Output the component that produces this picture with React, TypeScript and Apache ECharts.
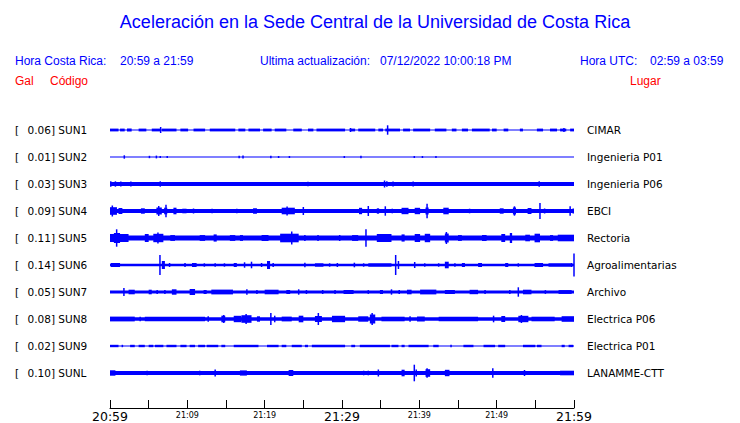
import React, { useEffect, useRef } from "react";
import * as echarts from "echarts";

// ---- Data ----
const TITLE = "Aceleración en la Sede Central de la Universidad de Costa Rica";
const CODES = ["SUN1", "SUN2", "SUN3", "SUN4", "SUN5", "SUN6", "SUN7", "SUN8", "SUN9", "SUNL"];
const PEAK_GAL = ["0.06", "0.01", "0.03", "0.09", "0.11", "0.14", "0.05", "0.08", "0.02", "0.10"];
const PLACES = [
  "CIMAR", "Ingenieria P01", "Ingenieria P06", "EBCI", "Rectoria",
  "Agroalimentarias", "Archivo", "Electrica P06", "Electrica P01", "LANAMME-CTT",
];
// minutes after 20:59, tick every 5 min, label every 10 min
const TIME_LABELS = ["20:59", "21:09", "21:19", "21:29", "21:39", "21:49", "21:59"];
const BIG_LABELS = ["20:59", "21:29", "21:59"];

// background (noise) half-amplitude of each trace
const BASE_HALF = [0.6, 0.5, 2.0, 2.0, 2.6, 1.3, 1.6, 1.8, 0.5, 2.0];

// [startMin, endMin, halfAmplitude] bursts / spikes read from the record
const SUN1 = [
  [0, 1.1, 1.4], [1.3, 1.9, 1.4], [2.2, 2.8, 1.4], [3.7, 4.7, 1.4], [5.4, 6.5, 1.4], [6.55, 6.55, 3],
  [6.7, 8.6, 1.4], [9.1, 10.1, 1.4], [10.8, 12.3, 1.4], [12.9, 16.2, 1.4], [16.6, 17.5, 1.4],
  [17.9, 19.4, 1.4], [19.8, 20.9, 1.4], [21.3, 22.8, 1.4], [23.7, 24.8, 1.4], [25.6, 26.3, 1.4],
  [26.7, 30.4, 1.4], [31.0, 31.7, 1.4], [31.1, 31.1, 2], [32.1, 34.3, 1.4], [34.7, 35.3, 1.4],
  [35.6, 37.5, 1.4], [35.9, 35.9, 4.7], [37.9, 38.8, 1.4], [39.2, 41.4, 1.4], [42.0, 43.5, 1.4],
  [44.2, 44.8, 1.4], [45.5, 46.3, 1.4], [46.8, 49.1, 1.4], [49.4, 50.0, 1.4], [50.9, 51.5, 1.4],
  [53.0, 53.4, 1.4], [55.2, 56.0, 1.4], [56.9, 57.8, 1.4], [58.2, 59.0, 1.4], [58.7, 58.7, 2],
  [59.5, 60, 1.4],
];
const SUN2 = [
  [1.85, 1.85, 1.7], [5.1, 5.1, 1.2], [6.0, 6.0, 1.4], [6.5, 6.5, 1.0], [7.4, 7.4, 1.0],
  [16.7, 16.7, 1.2], [17.2, 17.2, 1.6], [20.8, 20.8, 1.2], [21.8, 21.8, 1.0], [23.2, 23.2, 1.0],
  [30.3, 30.3, 1.0], [32.45, 32.45, 1.2], [39.35, 39.35, 1.0], [40.4, 40.4, 1.0], [42.15, 42.15, 1.0],
];
const SUN3 = [
  [0.1, 0.1, 2.7], [0.7, 0.7, 2.7], [1.4, 1.4, 2.5], [2.7, 2.7, 2.5], [6.5, 6.5, 2.7],
  [25.6, 25.6, 2.3], [35.5, 35.5, 3.5], [35.8, 35.8, 2.8], [36.6, 36.6, 2.5], [39.2, 39.2, 2.5],
  [55.5, 55.5, 2.7],
];
const SUN4 = [
  [0, 0.9, 3.8], [0.3, 0.3, 5.5], [1.1, 1.6, 3], [4.0, 4.5, 2.7], [6.0, 6.7, 3.5], [6.3, 6.3, 5],
  [7.0, 7.4, 3.3], [7.24, 7.24, 6.3], [8.2, 8.6, 3.3], [9.35, 9.9, 2.3], [10.8, 10.8, 2.5],
  [13.2, 13.2, 2.3], [14.7, 14.7, 2], [16.4, 16.4, 2.3], [18.5, 19.0, 2.7], [19.8, 19.8, 2],
  [22.2, 23.9, 3.3], [22.9, 22.9, 4.5], [25.0, 25.0, 4], [25.4, 25.4, 2], [26.6, 26.6, 2],
  [29.5, 29.5, 2], [31.5, 31.5, 2], [32.2, 32.6, 3.2], [33.4, 33.4, 5], [34.5, 34.8, 2.7],
  [35.6, 35.6, 4.7], [36.5, 36.5, 2.3], [37.7, 38.6, 3.2], [39.4, 40.1, 3.2], [40.8, 41.2, 3.5],
  [41.0, 41.0, 7.3], [43.1, 43.8, 3.3], [45.0, 45.0, 2], [46.5, 46.5, 2.3], [48.3, 48.3, 2],
  [49.6, 49.6, 2], [50.4, 50.9, 2.7], [52.1, 52.5, 3.5], [52.3, 52.3, 4.7], [54.0, 54.5, 3],
  [55.6, 55.6, 8], [56.2, 56.2, 2.5], [59.5, 59.5, 4.7], [59.9, 59.9, 2.5],
];
const SUN5 = [
  [0, 2.4, 4], [0.86, 0.86, 8.7], [0.5, 1.3, 5], [4.5, 5.0, 4], [5.6, 6.9, 4.2], [6.2, 6.2, 5.5],
  [7.8, 8.4, 2.9], [11.6, 12.3, 2.9], [13.4, 13.8, 3.6], [15.5, 16.2, 2.9], [16.8, 17.2, 2.9],
  [19.6, 20.5, 3], [22.0, 24.4, 4.3], [23.5, 23.5, 6.5], [25.2, 25.2, 3], [26.9, 26.9, 2.9],
  [29.7, 29.7, 3], [31.3, 32.1, 2.9], [33.1, 33.1, 8.7], [34.5, 36.4, 4], [37.7, 38.1, 3.6],
  [39.4, 40.1, 4], [40.7, 41.4, 4.2], [43.3, 43.8, 4.5], [43.5, 43.5, 6], [45.0, 45.5, 2.9],
  [48.1, 48.7, 3], [50.6, 51.1, 4], [51.7, 52.0, 5], [53.7, 54.3, 3.3], [54.9, 55.6, 4.3],
  [56.9, 57.3, 2.9], [57.9, 60, 3.3],
];
const SUN6 = [
  [0.1, 1.3, 2], [6.46, 6.46, 10], [6.7, 7.1, 4], [7.7, 7.7, 2], [9.7, 9.7, 2], [10.6, 11.2, 2],
  [12.2, 12.2, 1.7], [13.6, 13.6, 1.7], [14.8, 14.8, 1.7], [16.0, 16.4, 2], [17.4, 17.4, 2.7],
  [18.3, 18.3, 3.3], [19.6, 19.6, 2], [20.3, 20.7, 4], [21.1, 21.1, 2], [25.2, 25.2, 2.3],
  [26.5, 27.6, 1.7], [28.4, 28.4, 1.7], [29.4, 29.4, 2], [31.5, 31.7, 2.3], [32.8, 32.8, 1.7],
  [33.4, 36.4, 1.7], [36.94, 36.94, 10], [37.3, 37.3, 4], [39.4, 39.4, 3], [40.7, 40.7, 1.7],
  [42.5, 42.5, 1.7], [43.3, 43.8, 3.3], [44.6, 44.6, 1.7], [45.5, 45.9, 2], [47.6, 48.1, 2],
  [51.1, 51.5, 2], [52.8, 52.8, 1.7], [54.9, 56.0, 2], [56.7, 59.7, 1.7], [59.7, 59.7, 2],
  [60, 60, 11.5],
];
const SUN7 = [
  [1.8, 1.8, 4], [2.4, 3.2, 2.3], [5.0, 5.4, 2.3], [6.1, 6.1, 2], [7.1, 7.1, 1.9], [8.0, 8.6, 2.7],
  [10.3, 11.0, 3], [12.1, 12.5, 2], [13.1, 15.9, 2.4], [17.7, 17.7, 2.7], [19.0, 19.0, 2],
  [20.0, 21.8, 2.3], [22.8, 23.3, 2], [24.4, 24.4, 2.7], [25.4, 25.4, 2], [27.4, 27.6, 2],
  [29.1, 29.1, 2], [30.2, 31.5, 2], [33.4, 33.4, 1.9], [34.9, 35.3, 2], [36.4, 36.4, 2.7],
  [37.3, 37.5, 2], [38.4, 39.0, 2.3], [40.1, 42.2, 2.4], [43.3, 44.6, 2], [46.5, 47.6, 2.2],
  [48.5, 48.5, 1.9], [51.7, 51.7, 2], [52.8, 52.8, 4.7], [53.4, 54.5, 2.3], [56.3, 56.3, 1.9],
  [58.0, 59.7, 1.9],
];
const SUN8 = [
  [0, 3.2, 2.4], [3.9, 3.9, 2.3], [4.5, 12.3, 2.3], [12.7, 12.7, 2.7], [14.4, 14.9, 3.3],
  [14.7, 14.7, 4], [16.0, 17.0, 3.2], [17.0, 18.3, 3.8], [17.6, 17.6, 5], [19.0, 19.4, 2.7],
  [20.8, 20.8, 6], [21.3, 21.3, 3.3], [22.2, 23.5, 2.4], [24.4, 25.0, 3.3], [26.5, 27.4, 3],
  [26.94, 26.94, 6], [28.7, 30.4, 3.2], [32.1, 33.4, 2.7], [33.6, 34.3, 4.5], [33.9, 33.9, 6],
  [35.1, 38.1, 2.3], [38.8, 38.8, 2.7], [39.7, 40.7, 2.5], [42.5, 47.6, 2.2], [49.6, 49.6, 3.3],
  [50.6, 51.1, 3], [52.8, 54.1, 3.2], [53.2, 53.2, 4], [54.5, 57.5, 2.3], [58.4, 60, 2.8],
];
const SUN9 = [
  [0, 1.1, 1.2], [1.5, 1.7, 1.2], [2.6, 3.2, 1.2], [3.7, 4.5, 1.2], [5.0, 5.6, 1.2], [5.8, 6.9, 1.2],
  [7.3, 8.6, 1.2], [9.1, 9.9, 1.2], [10.3, 11.0, 1.2], [11.4, 12.3, 1.2], [12.5, 14.0, 1.2],
  [14.4, 14.9, 1.2], [16.0, 19.2, 1.2], [20.3, 21.8, 1.2], [22.2, 22.8, 1.2], [23.5, 24.8, 1.2],
  [25.2, 25.6, 1.2], [26.1, 30.4, 1.2], [31.2, 31.7, 1.2], [32.3, 36.2, 1.2], [36.4, 37.3, 1.2],
  [37.7, 38.1, 1.2], [38.6, 41.2, 1.2], [41.8, 42.5, 1.2], [44.0, 44.2, 1.2], [45.7, 47.0, 1.2],
  [48.3, 49.8, 1.2], [50.2, 51.1, 1.2], [53.4, 55.0, 1.2], [55.2, 55.8, 1.2], [58.4, 58.8, 1.2],
  [59.3, 59.9, 1.2],
];
const SUNL = [
  [0, 0.7, 2.7], [2.7, 2.7, 2], [4.8, 4.8, 2.3], [6.8, 6.8, 2], [9.5, 9.5, 2], [11.6, 11.6, 2.3],
  [13.6, 13.6, 3.5], [16.8, 17.7, 2.6], [18.5, 18.5, 2], [19.6, 19.6, 1.7], [21.1, 21.1, 2],
  [23.1, 23.7, 3], [25.0, 25.0, 2], [27.4, 27.4, 1.7], [30.4, 30.4, 2], [32.8, 32.8, 2.3],
  [33.4, 33.4, 2.3], [34.7, 34.7, 3.5], [36.4, 36.4, 1.7], [37.7, 38.1, 3.3], [39.35, 39.35, 8.3],
  [39.6, 39.6, 3.5], [40.8, 41.4, 3.8], [41.0, 41.0, 4.7], [43.3, 43.9, 3.2], [45.1, 45.1, 2],
  [49.5, 49.5, 4.7], [51.7, 51.7, 2], [53.6, 53.6, 3], [58.2, 60, 2.3],
];
const TRACES = [SUN1, SUN2, SUN3, SUN4, SUN5, SUN6, SUN7, SUN8, SUN9, SUNL];

// amplitudes above are expressed relative to a 27-unit row spacing
const ROW_UNITS = 27;
const BLUE = "#0000ff";

export default function App() {
  const ref = useRef<HTMLDivElement>(null);

  useEffect(() => {
    if (!ref.current) return;
    const chart = echarts.init(ref.current, null, { renderer: "svg" });

    const data: number[][] = [];
    TRACES.forEach((segs, row) => {
      data.push([row, 0, 60, BASE_HALF[row]]);
      segs.forEach((s) => data.push([row, s[0], s[1], s[2]]));
    });

    const rowLabels = CODES.map((c, i) => `{br|[}{t|${PEAK_GAL[i]}] ${c}}`);

    const headerFont = { fontFamily: '"Liberation Sans", Arial, sans-serif', fontSize: 12 };
    const hdr = (text: string, x: number, y: number, fill: string) => ({
      type: "text",
      x,
      y,
      style: { text, fill, ...headerFont, verticalAlign: "middle", align: "left" },
    });

    chart.setOption({
      animation: false,
      backgroundColor: "#ffffff",
      graphic: [
        {
          type: "text",
          x: 375,
          y: 22,
          style: {
            text: TITLE,
            fill: BLUE,
            fontFamily: '"Liberation Sans", Arial, sans-serif',
            fontSize: 18,
            align: "center",
            verticalAlign: "middle",
          },
        },
        hdr("Hora Costa Rica:", 15, 61, BLUE),
        hdr("20:59 a 21:59", 120, 61, BLUE),
        hdr("Ultima actualización:", 260, 61, BLUE),
        hdr("07/12/2022 10:00:18 PM", 380, 61, BLUE),
        hdr("Hora UTC:", 580, 61, BLUE),
        hdr("02:59 a 03:59", 650, 61, BLUE),
        hdr("Gal", 15, 81, "#ff0000"),
        hdr("Código", 50, 81, "#ff0000"),
        hdr("Lugar", 630, 81, "#ff0000"),
      ],
      grid: [
        { left: 110, width: 464, top: 116.5, height: 270 },
        { left: 110, width: 464, top: 399, height: 10 },
      ],
      xAxis: [
        { type: "value", gridIndex: 0, min: 0, max: 60, show: false },
        {
          type: "value",
          gridIndex: 1,
          min: 0,
          max: 60,
          interval: 5,
          axisLine: { show: true, lineStyle: { color: "#000", width: 1 } },
          axisTick: { show: true, inside: true, length: 8, lineStyle: { color: "#000", width: 1 } },
          splitLine: { show: false },
          axisLabel: {
            margin: 2,
            showMinLabel: true,
            showMaxLabel: true,
            formatter: (v: number) => {
              if (v % 10 !== 0) return "";
              const lab = TIME_LABELS[v / 10];
              return BIG_LABELS.includes(lab) ? `{big|${lab}}` : `{small|${lab}}`;
            },
            rich: {
              big: { fontFamily: '"DejaVu Sans", sans-serif', fontSize: 12.5, lineHeight: 13, color: "#000" },
              small: { fontFamily: '"DejaVu Sans", sans-serif', fontSize: 8, lineHeight: 10, color: "#000" },
            },
          },
        },
      ],
      yAxis: [
        {
          type: "category",
          gridIndex: 0,
          data: CODES,
          inverse: true,
          axisLine: { show: false },
          axisTick: { show: false },
          splitLine: { show: false },
          axisLabel: {
            align: "left",
            margin: 95,
            formatter: (_v: string, i: number) => rowLabels[i],
            rich: {
              br: { width: 12.5, fontFamily: '"DejaVu Sans", sans-serif', fontSize: 10.5, color: "#000" },
              t: { fontFamily: '"DejaVu Sans", sans-serif', fontSize: 10.5, color: "#000" },
            },
          },
        },
        {
          type: "category",
          gridIndex: 0,
          position: "right",
          data: PLACES,
          inverse: true,
          axisLine: { show: false },
          axisTick: { show: false },
          splitLine: { show: false },
          axisLabel: {
            align: "left",
            margin: 13,
            color: "#000",
            fontFamily: '"DejaVu Sans", sans-serif',
            fontSize: 10.5,
          },
        },
        { type: "value", gridIndex: 1, show: false },
      ],
      series: [
        {
          type: "custom",
          xAxisIndex: 0,
          yAxisIndex: 0,
          clip: false,
          silent: true,
          encode: { x: [1, 2], y: 0 },
          data,
          renderItem: (_params: any, api: any) => {
            const row = api.value(0);
            const s = api.value(1);
            const e = api.value(2);
            const h = api.value(3);
            const p1 = api.coord([s, row]);
            const p2 = api.coord([e, row]);
            const band = api.size([0, 1])[1];
            const hp = (h / ROW_UNITS) * band;
            const spike = e === s;
            const w = Math.max(p2[0] - p1[0], 1.5);
            return {
              type: "rect",
              shape: { x: spike ? p1[0] - 0.75 : p1[0], y: p1[1] - hp, width: w, height: 2 * hp },
              style: { fill: BLUE },
            };
          },
        },
      ],
    });

    return () => chart.dispose();
  }, []);

  return (
    <div
      ref={ref}
      style={{ position: "fixed", left: 0, top: 0, width: 740, height: 423, background: "#fff" }}
    />
  );
}
